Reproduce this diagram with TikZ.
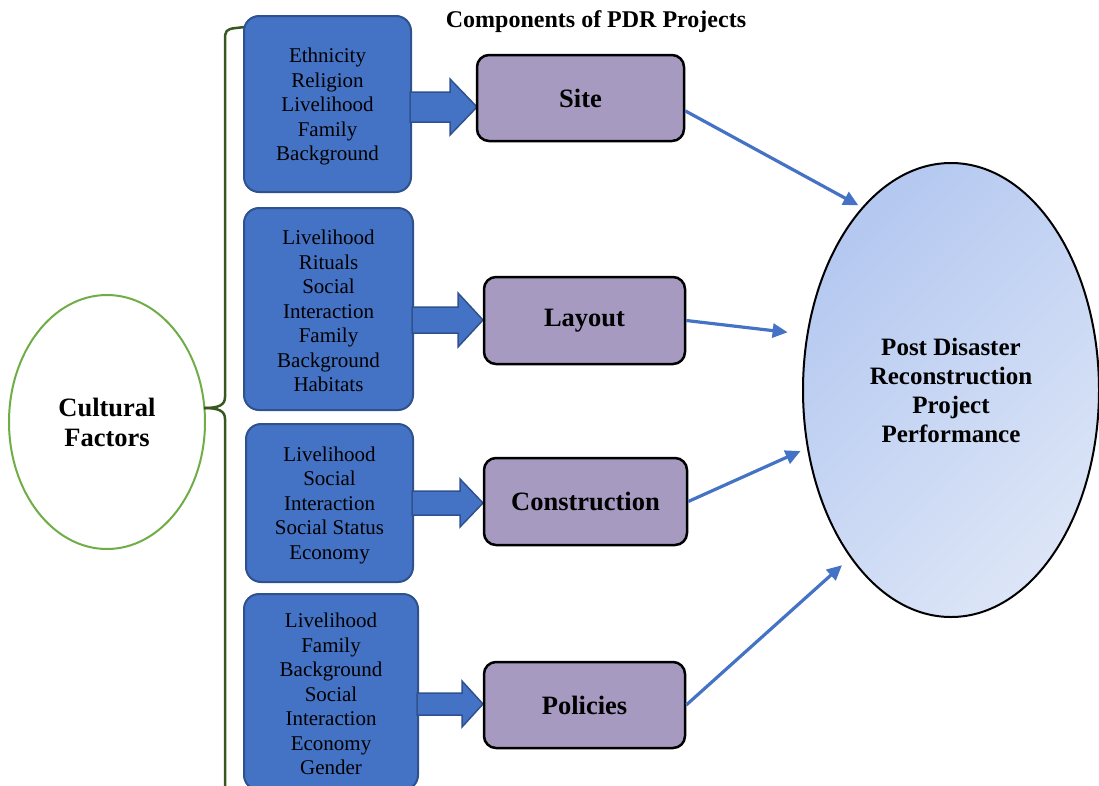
\documentclass[tikz,border=0pt]{standalone}
\usepackage{fontspec}
\setmainfont{Liberation Serif}
\usetikzlibrary{shapes.geometric,arrows.meta}
\definecolor{boxblue}{HTML}{4472C4}
\definecolor{boxblueline}{HTML}{2F528F}
\definecolor{boxpurple}{RGB}{167,154,193}
\definecolor{bracegreen}{RGB}{56,87,35}
\definecolor{ellgreen}{HTML}{70AD47}
\definecolor{perfdark}{RGB}{180,200,240}
\definecolor{perflight}{RGB}{220,229,247}
\begin{document}
\begin{tikzpicture}[x=1pt,y=-1pt,
  factorbox/.style={draw=boxblueline,fill=boxblue,line width=2pt,rounded corners=15pt,
    align=center,inner sep=0pt,font=\fontsize{21}{24.5}\selectfont},
  compbox/.style={draw=black,fill=boxpurple,line width=2.5pt,rounded corners=12pt,
    align=center,inner sep=0pt,font=\fontsize{26.5}{30}\selectfont\bfseries},
  barrow/.style={draw=boxblueline,fill=boxblue,line width=1.5pt,line join=miter},
  link/.style={draw=boxblue,line width=3.2pt,-{Triangle[length=15pt,width=14pt]}},
  bracestyle/.style={draw=bracegreen,line width=2.5pt}]
\useasboundingbox (0,0) rectangle (1099,785);

% title
\node[font=\fontsize{24}{28}\selectfont\bfseries] (title) at (596,22) {Components of PDR Projects};

% cultural factors
\node[ellipse,draw=ellgreen,line width=2pt,fill=white,minimum width=196pt,minimum height=254pt,
  align=center,font=\fontsize{26.5}{30}\selectfont\bfseries] (cult) at (107,422) {Cultural\\Factors};

% brace
\draw[bracestyle] (245,27) -- (236,28) .. controls (226,29) and (225,31) .. (225,40) -- (225,397)
  .. controls (225,405) and (219,408) .. (204,408);
\draw[bracestyle] (204,408) .. controls (219,408) and (225,411) .. (225,419) -- (225,790);

% factor boxes
\node[factorbox,minimum width=167pt,minimum height=176pt] (f1) at (327.5,104)
  {\rule{0pt}{20pt}Ethnicity\\Religion\\Livelihood\\Family\\Background};
\node[factorbox,minimum width=169pt,minimum height=202pt] (f2) at (328.5,309)
  {\rule{0pt}{19pt}Livelihood\\Rituals\\Social\\Interaction\\Family\\Background\\Habitats};
\node[factorbox,minimum width=167pt,minimum height=158pt] (f3) at (329.5,503)
  {\rule{0pt}{19.5pt}Livelihood\\Social\\Interaction\\Social Status\\Economy};
\node[factorbox,minimum width=174pt,minimum height=196pt] (f4) at (331,692)
  {\rule{0pt}{19pt}Livelihood\\Family\\Background\\Social\\Interaction\\Economy\\Gender};

% block arrows
\draw[barrow] (410,92) -- (450,92) -- (450,79) -- (477,107) -- (450,135) -- (450,122) -- (410,122) -- cycle;
\draw[barrow] (412,307) -- (458,307) -- (458,293) -- (483,320) -- (458,347) -- (458,333) -- (412,333) -- cycle;
\draw[barrow] (412,491) -- (460,491) -- (460,479) -- (483,503) -- (460,527) -- (460,515) -- (412,515) -- cycle;
\draw[barrow] (417,693) -- (462,693) -- (462,681) -- (483,704) -- (462,727) -- (462,715) -- (417,715) -- cycle;

% component boxes
\node[compbox,minimum width=207pt,minimum height=86pt] (site) at (580.5,98) {Site};
\node[compbox,minimum width=201pt,minimum height=87pt] (layout) at (584.5,320.5) {Layout};
\node[compbox,minimum width=203pt,minimum height=87pt] (constr) at (585.5,501.5) {Construction};
\node[compbox,minimum width=201pt,minimum height=86pt] (policies) at (584.5,705) {Policies};

% performance ellipse
\node[ellipse,draw=black,line width=2pt,top color=perfdark,bottom color=perflight,shading angle=45,
  minimum width=296pt,minimum height=454pt,inner sep=0pt,align=center,
  font=\fontsize{25}{29}\selectfont\bfseries] (perf) at (951,390)
  {Post Disaster\\Reconstruction\\Project\\Performance};

% connectors
\draw[link,shorten >=4pt] (site.-7.5) -- (perf.116.4);
\draw[link,shorten >=19pt] (layout.east) -- (perf.159.9);
\draw[link,shorten >=7pt] (constr.east) -- (perf.202.5);
\draw[link,shorten >=11pt] (policies.east) -- (perf.239.7);
\end{tikzpicture}
\end{document}
